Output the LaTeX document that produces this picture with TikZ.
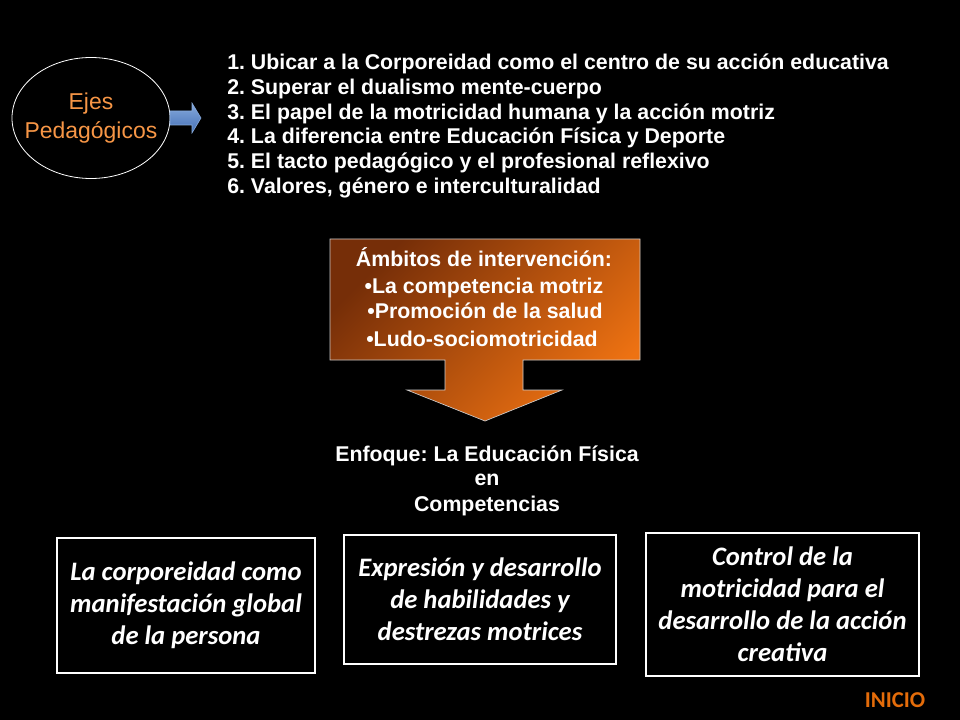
\documentclass[tikz,border=0pt]{standalone}
\usepackage{fontspec}
\setmainfont{Liberation Sans}
\newfontfamily\calibri{Carlito}
\usetikzlibrary{shapes.geometric}
\frenchspacing

\definecolor{ejesorange}{RGB}{247,150,70}
\definecolor{calldark}{RGB}{118,46,8}
\definecolor{calllight}{RGB}{238,114,18}
\definecolor{arrowtop}{RGB}{135,170,220}
\definecolor{arrowbot}{RGB}{68,112,182}
\definecolor{inicio}{RGB}{228,108,10}

\tikzset{
  ejetxt/.style={font=\bfseries\fontsize{16}{19}\selectfont, text=white, anchor=base west, inner sep=0},
  ambtxt/.style={font=\bfseries\fontsize{16}{19}\selectfont, text=white, anchor=base, inner sep=0},
  compbox/.style={draw=white, line width=0.8pt, text=white, align=center, inner sep=0,
    font=\calibri\bfseries\itshape\fontsize{20}{24}\selectfont},
}

\begin{document}
\begin{tikzpicture}[x=0.75pt, y=-0.75pt]
  \fill[black] (0,0) rectangle (960,720);
  \path[use as bounding box] (0,0) rectangle (960,720);

  % ejes pedagogicos
  \node[draw=white, line width=0.6pt, ellipse, minimum width=118.5pt, minimum height=90.75pt,
    inner sep=0] (ejes) at (91,118) {};
  \node[align=center, text=ejesorange, inner sep=0, font=\fontsize{17.2}{21.2}\selectfont]
    (ejestxt) at (ejes.center) {Ejes\\Pedagógicos};
  \shade[top color=arrowtop, bottom color=arrowbot, draw=arrowtop, line width=0.4pt]
    (170,111) -- (192,111) -- (192,103) -- (201,118) -- (192,133) -- (192,125) -- (170,125) -- cycle;

  \foreach \line [count=\i] in {{1. Ubicar a la Corporeidad como el centro de su acción educativa},
      {2. Superar el dualismo mente-cuerpo},
      {3. El papel de la motricidad humana y la acción motriz},
      {4. La diferencia entre Educación Física y Deporte},
      {5. El tacto pedagógico y el profesional reflexivo},
      {6. Valores, género e interculturalidad}}
    \node[ejetxt] (eje\i) at (227,45.34+24.66*\i) {\line};

  % ambitos
  \shade[left color=calldark, right color=calllight, shading angle=45, draw=white!80!black, line width=0.5pt]
    (330,239) -- (640,239) -- (640,360) -- (523,360) -- (523,390) -- (562,390) -- (485,421)
    -- (407,390) -- (445,390) -- (445,360) -- (330,360) -- cycle;
  \node[ambtxt] (ambitos) at (484,266.7) {Ámbitos de intervención:};
  \node[ambtxt] (amb1) at (484,293) {•La competencia motriz};
  \node[ambtxt] (amb2) at (485,318) {•Promoción de la salud};
  \node[ambtxt] (amb3) at (482,346.7) {•Ludo-sociomotricidad};

  % enfoque
  \node[ambtxt] (enfoque) at (487,461.7) {Enfoque: La Educación Física};
  \node[ambtxt] (en) at (487,485.5) {en};
  \node[ambtxt] (compet) at (487,511.7) {Competencias};

  % competencias
  \node[compbox, minimum width=193.5pt, minimum height=101.25pt] (corpo) at (186,605.5)
    {La corporeidad como\\manifestación global\\de la persona};
  \node[compbox, minimum width=204pt, minimum height=96.75pt] (expre) at (480,599.5)
    {Expresión y desarrollo\\de habilidades y\\destrezas motrices};
  \node[compbox, minimum width=204.75pt, minimum height=107.25pt] (control) at (782.5,604.5)
    {Control de la\\motricidad para el\\desarrollo de la acción\\creativa};

  \node[font=\calibri\bfseries\fontsize{17}{20}\selectfont, text=inicio] (inicio) at (895,700) {INICIO};
\end{tikzpicture}
\end{document}
